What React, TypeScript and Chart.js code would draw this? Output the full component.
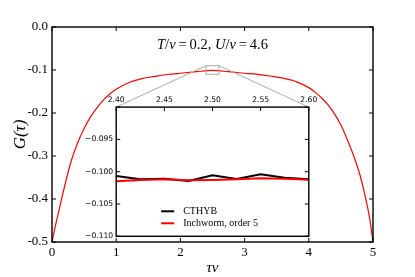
import React, { useEffect, useRef } from "react";
import { Chart, registerables } from "chart.js";

Chart.register(...registerables);

// ---- main panel data ----
const TAU = [0, 0.05, 0.1, 0.2, 0.3, 0.4, 0.5, 0.6, 0.7, 0.8, 0.9, 1.0, 1.2, 1.4, 1.6, 1.8, 2.0, 2.25, 2.5, 2.75, 3.0, 3.2, 3.4, 3.6, 3.8, 4.0, 4.1, 4.2, 4.3, 4.4, 4.5, 4.6, 4.7, 4.8, 4.9, 4.95, 5.0];
const G_TAU = [-0.5, -0.464, -0.432, -0.368, -0.311, -0.269, -0.236, -0.209, -0.188, -0.170, -0.156, -0.145, -0.129, -0.120, -0.115, -0.1105, -0.1075, -0.104, -0.101, -0.104, -0.1075, -0.110, -0.114, -0.119, -0.127, -0.141, -0.152, -0.165, -0.181, -0.202, -0.228, -0.262, -0.300, -0.346, -0.408, -0.447, -0.5];

// ---- inset data ----
const INSET_TAU = [2.4, 2.425, 2.45, 2.475, 2.5, 2.525, 2.55, 2.575, 2.6];
const CTHYB = [-0.10067, -0.10118, -0.10108, -0.10144, -0.10056, -0.10113, -0.1004, -0.10093, -0.10118];
const INCHWORM = [-0.10149, -0.10128, -0.10118, -0.10133, -0.10128, -0.10118, -0.10102, -0.10108, -0.10124];
const SERIES_LABELS = ["CTHYB", "Inchworm, order 5"];

// zoomed region and inset placement (main data coordinates)
const ZOOM_X = [2.4, 2.6];
const ZOOM_Y = [-0.11, -0.09];
const INSET_BOX_X = [1, 4];
const INSET_BOX_Y = [-0.4867, -0.1863];

const TITLE_PARTS: { t: string; it: boolean }[] = [
  { t: "T", it: true },
  { t: "/", it: false },
  { t: "v", it: true },
  { t: "\u2009=\u20090.2, ", it: false },
  { t: "U", it: true },
  { t: "/", it: false },
  { t: "v", it: true },
  { t: "\u2009=\u20094.6", it: false },
];

const W = 415;
const H = 277;
const SERIF = "'Liberation Serif', 'DejaVu Serif', serif";
const SANS = "'DejaVu Sans', sans-serif";

export default function App() {
  const mainRef = useRef<HTMLCanvasElement | null>(null);
  const insetRef = useRef<HTMLCanvasElement | null>(null);

  useEffect(() => {
    const mainPlugin = {
      id: "mainDeco",
      afterDraw(chart: any) {
        const { ctx, chartArea: a } = chart;
        const xs = chart.scales.x;
        const ys = chart.scales.y;
        ctx.save();
        // zoom rectangle
        ctx.strokeStyle = "#aaaaaa";
        ctx.lineWidth = 1;
        const rx0 = xs.getPixelForValue(ZOOM_X[0]);
        const rx1 = xs.getPixelForValue(ZOOM_X[1]);
        const ry0 = ys.getPixelForValue(ZOOM_Y[1]);
        const ry1 = ys.getPixelForValue(ZOOM_Y[0]);
        ctx.strokeRect(rx0, ry0, rx1 - rx0, ry1 - ry0);
        // connectors to inset top corners
        const ix0 = xs.getPixelForValue(INSET_BOX_X[0]);
        const ix1 = xs.getPixelForValue(INSET_BOX_X[1]);
        const iy = ys.getPixelForValue(INSET_BOX_Y[1]);
        ctx.beginPath();
        ctx.moveTo(rx0, ry0);
        ctx.lineTo(ix0, iy);
        ctx.moveTo(rx1, ry0);
        ctx.lineTo(ix1, iy);
        ctx.stroke();
        // frame
        ctx.strokeStyle = "#000";
        ctx.lineWidth = 1.4;
        ctx.strokeRect(a.left, a.top, a.right - a.left, a.bottom - a.top);
        // inward ticks
        ctx.lineWidth = 1;
        ctx.beginPath();
        xs.ticks.forEach((t: any) => {
          const p = xs.getPixelForValue(t.value);
          ctx.moveTo(p, a.bottom);
          ctx.lineTo(p, a.bottom - 4);
          ctx.moveTo(p, a.top);
          ctx.lineTo(p, a.top + 4);
        });
        ys.ticks.forEach((t: any) => {
          const p = ys.getPixelForValue(t.value);
          ctx.moveTo(a.left, p);
          ctx.lineTo(a.left + 4, p);
          ctx.moveTo(a.right, p);
          ctx.lineTo(a.right - 4, p);
        });
        ctx.stroke();
        // title text with italic parts
        ctx.fillStyle = "#000";
        ctx.textBaseline = "middle";
        ctx.textAlign = "left";
        const fontFor = (it: boolean) => `${it ? "italic " : ""}14.5px ${SERIF}`;
        let total = 0;
        TITLE_PARTS.forEach((p) => {
          ctx.font = fontFor(p.it);
          total += ctx.measureText(p.t).width;
        });
        let x = (a.left + a.right) / 2 - total / 2;
        const y = a.top + 18;
        TITLE_PARTS.forEach((p) => {
          ctx.font = fontFor(p.it);
          ctx.fillText(p.t, x, y);
          x += ctx.measureText(p.t).width;
        });
        ctx.restore();
      },
    };

    const main = new Chart(mainRef.current as HTMLCanvasElement, {
      type: "line",
      data: {
        datasets: [
          {
            data: TAU.map((t, i) => ({ x: t, y: G_TAU[i] })),
            borderColor: "#ff0000",
            borderWidth: 1.2,
            pointRadius: 0,
            cubicInterpolationMode: "monotone",
            fill: false,
          },
        ],
      },
      options: {
        responsive: false,
        animation: false,
        layout: { padding: { left: 0, right: 42, top: 27, bottom: 0 } },
        plugins: { legend: { display: false }, tooltip: { enabled: false } },
        scales: {
          x: {
            type: "linear",
            min: 0,
            max: 5,
            afterFit: (s: any) => {
              s.height = 35;
            },
            grid: { display: false, drawTicks: false },
            border: { display: false },
            ticks: {
              stepSize: 1,
              padding: 3,
              color: "#000",
              maxRotation: 0,
              font: { family: SERIF, size: 13 },
              callback: (v: any) => String(Math.round(Number(v))),
            },
            title: {
              display: true,
              text: "τv",
              color: "#000",
              padding: 0,
              font: { family: SERIF, size: 15, style: "italic" },
            },
          },
          y: {
            type: "linear",
            min: -0.5,
            max: 0,
            afterFit: (s: any) => {
              s.width = 52;
            },
            grid: { display: false, drawTicks: false },
            border: { display: false },
            ticks: {
              stepSize: 0.1,
              padding: 4,
              color: "#000",
              font: { family: SERIF, size: 13 },
              callback: (v: any) => Number(v).toFixed(1),
            },
            title: {
              display: true,
              text: "G(τ)",
              color: "#000",
              padding: { top: 10, bottom: 0 },
              font: { family: SERIF, size: 17, style: "italic" },
            },
          },
        },
      },
      plugins: [mainPlugin],
    } as any);

    const xs = main.scales.x;
    const ys = main.scales.y;
    const left = xs.getPixelForValue(INSET_BOX_X[0]);
    const right = xs.getPixelForValue(INSET_BOX_X[1]);
    const top = ys.getPixelForValue(INSET_BOX_Y[1]);
    const bottom = ys.getPixelForValue(INSET_BOX_Y[0]);
    const Y_AXIS_W = 40;
    const X_AXIS_H = 15;

    const insetPlugin = {
      id: "insetDeco",
      beforeDraw(chart: any) {
        const { ctx, chartArea: a } = chart;
        ctx.save();
        ctx.fillStyle = "#ffffff";
        ctx.fillRect(a.left, a.top, a.right - a.left, a.bottom - a.top);
        ctx.restore();
      },
      afterDraw(chart: any) {
        const { ctx, chartArea: a } = chart;
        const sx = chart.scales.x;
        const sy = chart.scales.y;
        ctx.save();
        ctx.strokeStyle = "#000";
        ctx.lineWidth = 1.4;
        ctx.strokeRect(a.left, a.top, a.right - a.left, a.bottom - a.top);
        ctx.lineWidth = 1;
        ctx.beginPath();
        sx.ticks.forEach((t: any) => {
          const p = sx.getPixelForValue(t.value);
          ctx.moveTo(p, a.top);
          ctx.lineTo(p, a.top + 4);
        });
        sy.ticks.forEach((t: any) => {
          const p = sy.getPixelForValue(t.value);
          ctx.moveTo(a.left, p);
          ctx.lineTo(a.left + 4, p);
          ctx.moveTo(a.right, p);
          ctx.lineTo(a.right - 4, p);
        });
        ctx.stroke();
        // legend
        const lx = a.left + 45;
        const ly = a.bottom - 25;
        ctx.font = `10px ${SERIF}`;
        ctx.textBaseline = "middle";
        ctx.textAlign = "left";
        chart.data.datasets.forEach((ds: any, i: number) => {
          const y = ly + i * 12;
          ctx.strokeStyle = ds.borderColor;
          ctx.lineWidth = 2;
          ctx.beginPath();
          ctx.moveTo(lx, y);
          ctx.lineTo(lx + 13, y);
          ctx.stroke();
          ctx.fillStyle = "#000";
          ctx.fillText(ds.label, lx + 22, y);
        });
        ctx.restore();
      },
    };

    const inset = new Chart(insetRef.current as HTMLCanvasElement, {
      type: "line",
      data: {
        datasets: [
          {
            label: SERIES_LABELS[0],
            data: INSET_TAU.map((t, i) => ({ x: t, y: CTHYB[i] })),
            borderColor: "#000000",
            borderWidth: 2,
            pointRadius: 0,
            tension: 0,
            order: 1,
          },
          {
            label: SERIES_LABELS[1],
            data: INSET_TAU.map((t, i) => ({ x: t, y: INCHWORM[i] })),
            borderColor: "#ff0000",
            borderWidth: 2,
            pointRadius: 0,
            tension: 0,
            order: 0,
          },
        ],
      },
      options: {
        responsive: false,
        animation: false,
        layout: {
          padding: { left: left - Y_AXIS_W, right: W - right, top: top - X_AXIS_H, bottom: H - bottom },
        },
        plugins: { legend: { display: false }, tooltip: { enabled: false } },
        scales: {
          x: {
            type: "linear",
            position: "top",
            min: ZOOM_X[0],
            max: ZOOM_X[1],
            afterFit: (s: any) => {
              s.height = X_AXIS_H;
            },
            grid: { display: false, drawTicks: false },
            border: { display: false },
            ticks: {
              stepSize: 0.05,
              padding: 3,
              autoSkip: false,
              maxRotation: 0,
              minRotation: 0,
              color: "#000",
              font: { family: SANS, size: 7.6 },
              callback: (v: any) => Number(v).toFixed(2),
            },
          },
          y: {
            type: "linear",
            min: ZOOM_Y[0],
            max: ZOOM_Y[1],
            afterFit: (s: any) => {
              s.width = Y_AXIS_W;
            },
            grid: { display: false, drawTicks: false },
            border: { display: false },
            ticks: {
              stepSize: 0.005,
              padding: 3,
              autoSkip: false,
              color: "#000",
              font: { family: SANS, size: 7.6 },
              callback: (v: any) =>
                Math.abs(Number(v) - ZOOM_Y[1]) < 1e-9 ? "" : "\u2212" + Math.abs(Number(v)).toFixed(3),
            },
          },
        },
      },
      plugins: [insetPlugin],
    } as any);

    return () => {
      inset.destroy();
      main.destroy();
    };
  }, []);

  return (
    <div style={{ position: "fixed", left: 0, top: 0, width: W, height: H, background: "#fff" }}>
      <canvas ref={mainRef} width={W} height={H} style={{ position: "absolute", left: 0, top: 0 }} />
      <canvas ref={insetRef} width={W} height={H} style={{ position: "absolute", left: 0, top: 0, pointerEvents: "none" }} />
    </div>
  );
}
